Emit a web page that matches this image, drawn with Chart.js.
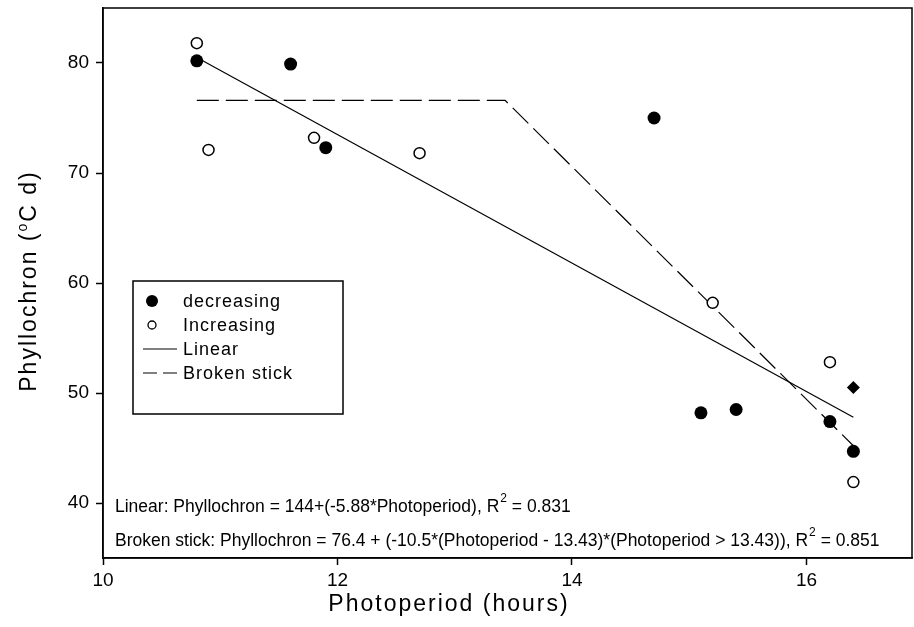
<!DOCTYPE html>
<html><head><meta charset="utf-8">
<script src="https://cdn.jsdelivr.net/npm/chart.js@4/dist/chart.umd.min.js"></script>
<style>html,body{margin:0;padding:0;background:#fff;overflow:hidden}#wrap{width:914px;height:627px;position:relative}canvas{display:block}</style>
</head><body><div id="wrap"><canvas id="c" width="914" height="627"></canvas></div>
<script>
// ---- data ----
const decreasingX = [10.8, 11.6, 11.9, 14.7, 15.1, 15.4, 16.2, 16.4, 16.4];
const decreasingY = [80.2, 79.9, 72.3, 75.0, 48.2, 48.5, 47.4, 50.5, 44.7];
const increasingX = [10.8, 10.9, 11.8, 12.7, 15.2, 16.2, 16.4];
const increasingY = [81.8, 72.1, 73.2, 71.8, 58.2, 52.8, 41.9];
const linearX = [10.8, 16.4];
const linearY = [80.5, 47.8];
const brokenX = [10.8, 13.43, 16.4];
const brokenY = [76.6, 76.6, 45.2];
const xTicks = [10, 12, 14, 16];
const yTicks = [40, 50, 60, 70, 80];
const legendLabels = ["decreasing", "Increasing", "Linear", "Broken stick"];
const xTitle = "Photoperiod (hours)";
const yTitle = ["Phyllochron (", "o", "C d)"];
const eqLinear = ["Linear: Phyllochron = 144+(-5.88*Photoperiod), R", "2", " = 0.831"];
const eqBroken = ["Broken stick: Phyllochron = 76.4 + (-10.5*(Photoperiod - 13.43)*(Photoperiod > 13.43)), R", "2", " = 0.851"];

const pts = (xs, ys) => xs.map((x, i) => ({x: x, y: ys[i]}));
const FONT = "'Liberation Sans', Arial, sans-serif";
const NARROW = "'Liberation Sans Narrow', 'Liberation Sans', Arial, sans-serif";

const decorPlugin = {
  id: 'decor',
  afterDraw(chart) {
    const ctx = chart.ctx, a = chart.chartArea;
    ctx.save();
    // frame
    ctx.strokeStyle = '#000'; ctx.lineWidth = 1.5;
    ctx.strokeRect(a.left, a.top, a.right - a.left, a.bottom - a.top);
    // legend
    const bx = 133, by = 281, bw = 210, bh = 133;
    ctx.lineWidth = 1.5;
    ctx.strokeRect(bx, by, bw, bh);
    const rows = [301, 325, 349, 373];
    ctx.font = '18px ' + FONT;
    ctx.fillStyle = '#000';
    ctx.textBaseline = 'middle';
    ctx.textAlign = 'left';
    ctx.letterSpacing = '1px';
    rows.forEach((ry, i) => ctx.fillText(legendLabels[i], 183, ry + 1));
    ctx.letterSpacing = '0px';
    ctx.beginPath(); ctx.arc(152, rows[0], 6, 0, Math.PI * 2); ctx.fill();
    ctx.beginPath(); ctx.arc(152, rows[1], 4, 0, Math.PI * 2); ctx.lineWidth = 1.3; ctx.stroke();
    ctx.lineWidth = 1;
    ctx.beginPath(); ctx.moveTo(143, rows[2]); ctx.lineTo(177, rows[2]); ctx.stroke();
    ctx.setLineDash([14, 6]);
    ctx.beginPath(); ctx.moveTo(143, rows[3]); ctx.lineTo(177, rows[3]); ctx.stroke();
    ctx.setLineDash([]);
    // equations
    const drawEq = (parts, x, y) => {
      ctx.font = '17.5px ' + NARROW;
      ctx.textBaseline = 'alphabetic';
      ctx.fillText(parts[0], x, y);
      let w = ctx.measureText(parts[0]).width;
      ctx.font = '12px ' + NARROW;
      ctx.fillText(parts[1], x + w + 1, y - 10);
      const w2 = ctx.measureText(parts[1]).width;
      ctx.font = '17.5px ' + NARROW;
      ctx.fillText(parts[2], x + w + w2 + 1, y);
    };
    drawEq(eqLinear, 115, 512);
    drawEq(eqBroken, 115, 546);
    // axis titles
    ctx.font = '23px ' + FONT;
    ctx.letterSpacing = '2px';
    ctx.textBaseline = 'middle';
    ctx.textAlign = 'center';
    ctx.fillText(xTitle, 449, 605);
    // y title with superscript degree
    ctx.save();
    ctx.translate(30, 281);
    ctx.rotate(-Math.PI / 2);
    ctx.textAlign = 'left';
    ctx.font = '23px ' + FONT;
    const w0 = ctx.measureText(yTitle[0]).width;
    ctx.font = '14px ' + FONT;
    const w1 = ctx.measureText(yTitle[1]).width;
    ctx.font = '23px ' + FONT;
    const w2 = ctx.measureText(yTitle[2]).width;
    let sx = -(w0 + w1 + w2) / 2;
    ctx.fillText(yTitle[0], sx, 0);
    ctx.font = '14px ' + FONT;
    ctx.fillText(yTitle[1], sx + w0, -7);
    ctx.font = '23px ' + FONT;
    ctx.fillText(yTitle[2], sx + w0 + w1, 0);
    ctx.restore();
    ctx.restore();
  }
};

new Chart(document.getElementById('c'), {
  type: 'scatter',
  data: {
    datasets: [
      {label: legendLabels[0], data: pts(decreasingX, decreasingY), backgroundColor: '#000', borderColor: '#000',
       pointRadius: [6.5, 6.5, 6.5, 6.5, 6.5, 6.5, 6.5, 6.5, 6.5],
       pointStyle: ['circle', 'circle', 'circle', 'circle', 'circle', 'circle', 'circle', 'rectRot', 'circle'],
       borderWidth: 0, order: 1},
      {label: legendLabels[1], data: pts(increasingX, increasingY), backgroundColor: '#fff', borderColor: '#000',
       pointRadius: 5.5, borderWidth: 1.5, order: 1},
      {label: legendLabels[2], type: 'line', data: pts(linearX, linearY), borderColor: '#000', borderWidth: 1.2,
       pointRadius: 0, fill: false, tension: 0, order: 2},
      {label: legendLabels[3], type: 'line', data: pts(brokenX, brokenY), borderColor: '#000', borderWidth: 1.2,
       borderDash: [22, 7], pointRadius: 0, fill: false, tension: 0, order: 2}
    ]
  },
  options: {
    responsive: false, animation: false, devicePixelRatio: 1,
    layout: {autoPadding: false, padding: {top: 8, right: 2, left: 0, bottom: 0}},
    plugins: {legend: {display: false}, tooltip: {enabled: false}},
    scales: {
      x: {
        type: 'linear', min: 10, max: 16.9,
        afterBuildTicks: s => { s.ticks = xTicks.map(v => ({value: v})); },
        afterFit: s => { s.height = 69; s.paddingLeft = 0; s.paddingRight = 0; },
        grid: {display: true, drawOnChartArea: false, drawTicks: true, tickLength: 7, color: '#000', tickWidth: 1.5},
        border: {display: true, color: '#000', width: 1.5},
        ticks: {color: '#000', font: {family: FONT, size: 19}, padding: 4, maxRotation: 0},
        title: {display: false}
      },
      y: {
        type: 'linear', min: 35, max: 85,
        afterBuildTicks: s => { s.ticks = yTicks.map(v => ({value: v})); },
        afterFit: s => { s.width = 103; s.paddingTop = 0; s.paddingBottom = 0; },
        grid: {display: true, drawOnChartArea: false, drawTicks: true, tickLength: 7, color: '#000', tickWidth: 1.5},
        border: {display: true, color: '#000', width: 1.5},
        ticks: {color: '#000', font: {family: FONT, size: 19}, padding: 7},
        title: {display: false}
      }
    }
  },
  plugins: [decorPlugin]
});
</script>
</body></html>
